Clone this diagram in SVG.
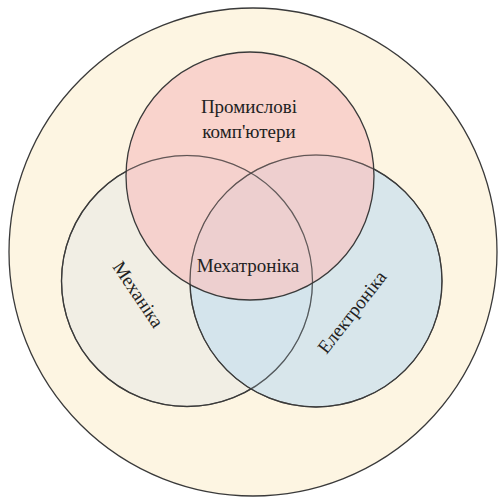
<svg xmlns="http://www.w3.org/2000/svg" width="498" height="501" viewBox="0 0 498 501">
<style>
.c{stroke:#3a3a3a;stroke-width:1.3}
.o{fill:none;stroke:#3a3a3a;stroke-width:1.2;stroke-opacity:0.75}
.t{font-family:"Liberation Serif","Times New Roman",serif;font-size:19px;fill:#222;text-anchor:middle}
</style>
<rect width="498" height="501" fill="#ffffff"/>
<g id="outer"><circle class="c" cx="253" cy="252" r="244" fill="#fdf5e2"/></g>
<g id="mechanics"><circle class="c" cx="187" cy="281" r="125.5" fill="#f1eee4"/></g>
<g id="electronics"><circle class="c" cx="316" cy="281" r="126" fill="#c9e0ee" fill-opacity="0.72"/></g>
<g id="computers"><circle class="c" cx="250" cy="176" r="124" fill="#f6c6c4" fill-opacity="0.72"/></g>
<g id="outlines">
<circle class="o" cx="187" cy="281" r="125.5"/>
<circle class="o" cx="316" cy="281" r="126"/>
</g>
<g id="labels">
<text class="t" transform="translate(133,298) rotate(56)">Механіка</text>
<text class="t" transform="translate(357,316) rotate(-52)">Електроніка</text>
<text class="t" x="249" y="113">Промислові</text>
<text class="t" x="249" y="138">комп'ютери</text>
<text class="t" x="248" y="272">Мехатроніка</text>
</g>
<g id="connectors"/>
</svg>
